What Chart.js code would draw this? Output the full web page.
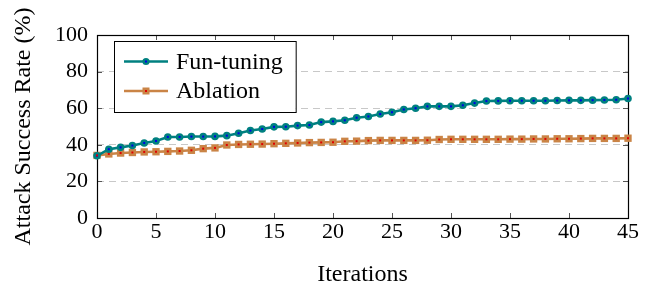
<!DOCTYPE html>
<html>
<head>
<meta charset="utf-8">
<script src="https://cdn.jsdelivr.net/npm/chart.js@4"></script>
<style>
  html, body { margin: 0; padding: 0; background: #fff; }
  #wrap { width: 651px; height: 289px; }
</style>
</head>
<body>
<div id="wrap"><canvas id="asr-chart" width="651" height="289"></canvas></div>
<script>
'use strict';

/* data */
const iterations = Array.from({length: 46}, (_, i) => i);

const funTuning = [
    34, 37.6, 38.6, 39.6, 41, 42.1, 44.3, 44.3, 44.5, 44.5,
    44.6, 45, 46.3, 47.8, 48.6, 49.8, 49.9, 50.5, 50.8, 52.4,
    52.8, 53.4, 54.8, 55.5, 56.8, 57.8, 59.3, 60, 61, 61,
    61, 61.6, 62.8, 63.9, 64, 64.1, 64.1, 64.1, 64.1, 64.2,
    64.3, 64.3, 64.4, 64.5, 64.6, 65.3
];

const ablation = [
    34.2, 35, 35.5, 35.8, 36.1, 36.2, 36.4, 36.6, 37, 37.9,
    38.3, 39.9, 40.2, 40.3, 40.4, 40.6, 40.8, 41, 41.2, 41.3,
    41.4, 41.9, 42, 42.3, 42.4, 42.4, 42.4, 42.4, 42.5, 42.9,
    43, 43, 43, 43, 43, 43.1, 43.1, 43.2, 43.2, 43.3,
    43.3, 43.4, 43.5, 43.5, 43.5, 43.6
];

const seriesNames = ['Fun-tuning', 'Ablation'];
const xTicks = [0, 5, 10, 15, 20, 25, 30, 35, 40, 45];
const yTicks = [0, 20, 40, 60, 80, 100];

const tealColor = 'rgb(0,128,128)';
const orangeColor = 'rgb(202,132,70)';
const serif = "'Liberation Serif', 'DejaVu Serif', serif";


/* plugins */

// axis box with inward ticks on all four sides
const framePlugin = {
    id: 'frame',
    beforeDatasetsDraw(chart) {
        const {ctx, chartArea: a, scales} = chart;
        ctx.save();
        ctx.strokeStyle = '#555';
        ctx.lineWidth = 1;
        const len = 5;
        ctx.beginPath();
        for (const v of xTicks) {
            const px = Math.round(scales.x.getPixelForValue(v)) + 0.5;
            ctx.moveTo(px, a.bottom); ctx.lineTo(px, a.bottom - len);
            ctx.moveTo(px, a.top); ctx.lineTo(px, a.top + len);
        }
        for (const v of yTicks) {
            const py = Math.round(scales.y.getPixelForValue(v)) + 0.5;
            ctx.moveTo(a.left, py); ctx.lineTo(a.left + len, py);
            ctx.moveTo(a.right, py); ctx.lineTo(a.right - len, py);
        }
        ctx.stroke();
        ctx.strokeStyle = '#000';
        ctx.lineWidth = 1.2;
        ctx.strokeRect(Math.round(a.left) + 0.5, Math.round(a.top) + 0.5,
            Math.round(a.right - a.left), Math.round(a.bottom - a.top));
        ctx.restore();
    }
};

// small coloured dot in the middle of every marker
const centerDotPlugin = {
    id: 'centerDot',
    afterDatasetsDraw(chart) {
        const ctx = chart.ctx;
        const dotColors = ['rgb(0,0,230)', 'rgb(225,0,0)'];
        ctx.save();
        chart.data.datasets.forEach((ds, i) => {
            const meta = chart.getDatasetMeta(i);
            ctx.fillStyle = dotColors[i];
            for (const pt of meta.data) {
                ctx.fillRect(pt.x - 1, pt.y - 1, 2, 2);
            }
        });
        ctx.restore();
    }
};

// pgfplots style legend: line + marker + label in a framed box
const legendPlugin = {
    id: 'boxLegend',
    afterDraw(chart) {
        const ctx = chart.ctx;
        const a = chart.chartArea;
        const x0 = a.left + 17, y0 = a.top + 6;
        const rowH = 29.5;
        ctx.save();
        ctx.font = `24px ${serif}`;
        const textW = Math.max(...seriesNames.map(n => ctx.measureText(n).width));
        const boxW = 62 + textW + 13, boxH = 71;
        ctx.fillStyle = '#fff';
        ctx.fillRect(x0, y0, boxW, boxH);
        ctx.strokeStyle = '#000';
        ctx.lineWidth = 1;
        ctx.strokeRect(x0 + 0.5, y0 + 0.5, boxW, boxH);

        chart.data.datasets.forEach((ds, i) => {
            const cy = y0 + 20.5 + i * rowH;
            ctx.strokeStyle = ds.borderColor;
            ctx.lineWidth = ds.borderWidth;
            ctx.beginPath();
            ctx.moveTo(x0 + 10, cy); ctx.lineTo(x0 + 54, cy);
            ctx.stroke();
            ctx.fillStyle = ds.pointBackgroundColor;
            if (ds.pointStyle === 'rect') {
                ctx.fillRect(x0 + 32 - 3.5, cy - 3.5, 7, 7);
            } else {
                ctx.beginPath();
                ctx.arc(x0 + 32, cy, 3.6, 0, Math.PI * 2);
                ctx.fill();
            }
            ctx.fillStyle = i === 0 ? 'rgb(0,0,230)' : 'rgb(225,0,0)';
            ctx.fillRect(x0 + 31, cy - 1, 2, 2);
            ctx.fillStyle = '#000';
            ctx.textBaseline = 'middle';
            ctx.fillText(seriesNames[i], x0 + 62, cy + 1);
        });
        ctx.restore();
    }
};


/* chart */

const asrCtx = document.querySelector('#asr-chart');

const asrData = {
    labels: iterations,
    datasets: [
        {
            label: seriesNames[0],
            data: iterations.map((x, i) => ({x: x, y: funTuning[i]})),
            borderColor: tealColor,
            backgroundColor: tealColor,
            pointBackgroundColor: tealColor,
            borderWidth: 2.6,
            pointStyle: 'circle',
            pointRadius: 3.8,
            pointBorderWidth: 0,
            clip: false
        },
        {
            label: seriesNames[1],
            data: iterations.map((x, i) => ({x: x, y: ablation[i]})),
            borderColor: orangeColor,
            backgroundColor: orangeColor,
            pointBackgroundColor: orangeColor,
            borderWidth: 2.6,
            pointStyle: 'rect',
            pointRadius: 5.2,
            pointBorderWidth: 0,
            clip: false
        }
    ]
};

const asrConfig = {
    type: 'line',
    data: asrData,
    options: {
        responsive: false,
        animation: false,
        layout: {
            padding: {top: 35, right: 23, left: 0, bottom: 0}
        },
        scales: {
            x: {
                type: 'linear',
                min: 0,
                max: 45,
                afterFit: scale => { scale.height = 71; },
                afterBuildTicks: scale => { scale.ticks = xTicks.map(v => ({value: v})); },
                grid: {display: false, drawTicks: false},
                border: {display: false},
                ticks: {
                    color: '#000',
                    padding: 1,
                    maxRotation: 0,
                    font: {family: serif, size: 22}
                },
                title: {
                    display: true,
                    text: 'Iterations',
                    color: '#000',
                    padding: {top: 0, bottom: 0},
                    font: {family: serif, size: 24}
                }
            },
            y: {
                min: 0,
                max: 100,
                afterFit: scale => { scale.width = 97; },
                afterBuildTicks: scale => { scale.ticks = yTicks.map(v => ({value: v})); },
                grid: {
                    drawTicks: false,
                    color: c => (c.tick && (c.tick.value === 0 || c.tick.value === 100)) ? 'rgba(0,0,0,0)' : '#c8c8c8',
                    lineWidth: 1
                },
                border: {display: false, dash: [7, 5]},
                ticks: {
                    color: '#000',
                    padding: 9,
                    font: {family: serif, size: 22}
                },
                title: {
                    display: true,
                    text: 'Attack Success Rate (%)',
                    color: '#000',
                    padding: {top: 9, bottom: 0},
                    font: {family: serif, size: 24}
                }
            }
        },
        plugins: {
            legend: {display: false},
            tooltip: {enabled: false}
        }
    },
    plugins: [framePlugin, centerDotPlugin, legendPlugin]
};

const asrChart = new Chart(asrCtx, asrConfig);
</script>
</body>
</html>
